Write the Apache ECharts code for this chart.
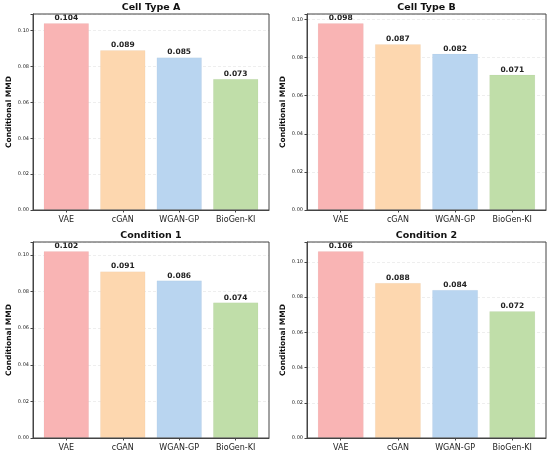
<!DOCTYPE html>
<html>
<head>
<meta charset="utf-8">
<script src="https://cdn.jsdelivr.net/npm/echarts@6/dist/echarts.min.js"></script>
<style>
html,body{margin:0;padding:0;background:#fff;}
#chart{width:550px;height:456px;}
</style>
</head>
<body>
<div id="chart"></div>
<script>
const categories = ['VAE', 'cGAN', 'WGAN-GP', 'BioGen-KI'];
const panelTitles = ['Cell Type A', 'Cell Type B', 'Condition 1', 'Condition 2'];
const cellTypeA = [0.104, 0.089, 0.085, 0.073];
const cellTypeB = [0.098, 0.087, 0.082, 0.071];
const condition1 = [0.102, 0.091, 0.086, 0.074];
const condition2 = [0.106, 0.088, 0.084, 0.072];
const yTicks = [0.00, 0.02, 0.04, 0.06, 0.08, 0.10];
const barColors = ['#F9B4B4', '#FDD7AF', '#B9D5F0', '#C0DEA9'];
const yAxisName = 'Conditional MMD';

const panels = [cellTypeA, cellTypeB, condition1, condition2];
const grids = [
  {left: 33, top: 14, width: 236, height: 196},
  {left: 307, top: 14, width: 239, height: 196},
  {left: 33, top: 242, width: 236, height: 196},
  {left: 307, top: 242, width: 239, height: 196}
];
const FONT = 'DejaVu Sans';
const axisColor = '#444';
const catIdx = categories.map((c, k) => k);
const xPad = 0.59;            // matplotlib-like margins around bars
const xSpan = categories.length - 1 + 2 * xPad;

const option = {
  animation: false,
  backgroundColor: '#fff',
  title: [], grid: [], xAxis: [], yAxis: [], series: []
};

panels.forEach((vals, i) => {
  const g = grids[i];
  option.grid.push({left: g.left, top: g.top, width: g.width, height: g.height, containLabel: false,
    show: true, z: 5, borderColor: axisColor, borderWidth: 1, backgroundColor: 'transparent'});
  option.title.push({
    text: panelTitles[i], padding: 0,
    left: g.left + g.width / 2, top: g.top - 11.5, textAlign: 'center',
    textStyle: {fontFamily: FONT, fontSize: 9.5, fontWeight: 'bold', color: '#111'}
  });
  option.xAxis.push({
    type: 'value', gridIndex: i, min: -xPad, max: categories.length - 1 + xPad,
    axisLine: {show: true, onZero: false, lineStyle: {color: axisColor, width: 1}},
    axisTick: {show: true, customValues: catIdx, length: 2.5, lineStyle: {color: axisColor}},
    axisLabel: {customValues: catIdx, fontFamily: FONT, fontSize: 8, color: '#222', margin: 6,
      formatter: v => categories[Math.round(v)] || ''},
    splitLine: {show: false}
  });
  const ymax = Math.max(...vals) * 1.05;
  option.yAxis.push({
    type: 'value', gridIndex: i, min: 0, max: ymax, interval: 0.02,
    name: yAxisName, nameLocation: 'middle', nameGap: 20,
    nameTextStyle: {fontFamily: FONT, fontSize: 7.5, fontWeight: 'bold', color: '#111'},
    axisLine: {show: true, onZero: false, lineStyle: {color: axisColor, width: 1}},
    axisTick: {show: true, length: 2.5, lineStyle: {color: axisColor}},
    axisLabel: {fontFamily: FONT, fontSize: 5, color: '#222', margin: 4,
      formatter: v => (yTicks.some(t => Math.abs(t - v) < 1e-9) ? v.toFixed(2) : '')},
    splitLine: {show: true, lineStyle: {color: '#e6e6e6', type: [3, 2], width: 0.7}}
  });
  option.series.push({
    type: 'bar', xAxisIndex: i, yAxisIndex: i,
    barWidth: g.width * 0.8 / xSpan,
    data: vals.map((v, k) => ({value: [k, v], itemStyle: {color: barColors[k], borderColor: 'rgba(0,0,0,0.05)', borderWidth: 0.5}})),
    label: {show: true, position: 'top', distance: 1,
      fontFamily: FONT, fontSize: 7.5, fontWeight: 'bold', color: '#222',
      formatter: p => p.value[1].toFixed(3)},
    z: 3
  });
});

const chart = echarts.init(document.getElementById('chart'), null, {renderer: 'canvas'});
chart.setOption(option);
</script>
</body>
</html>
